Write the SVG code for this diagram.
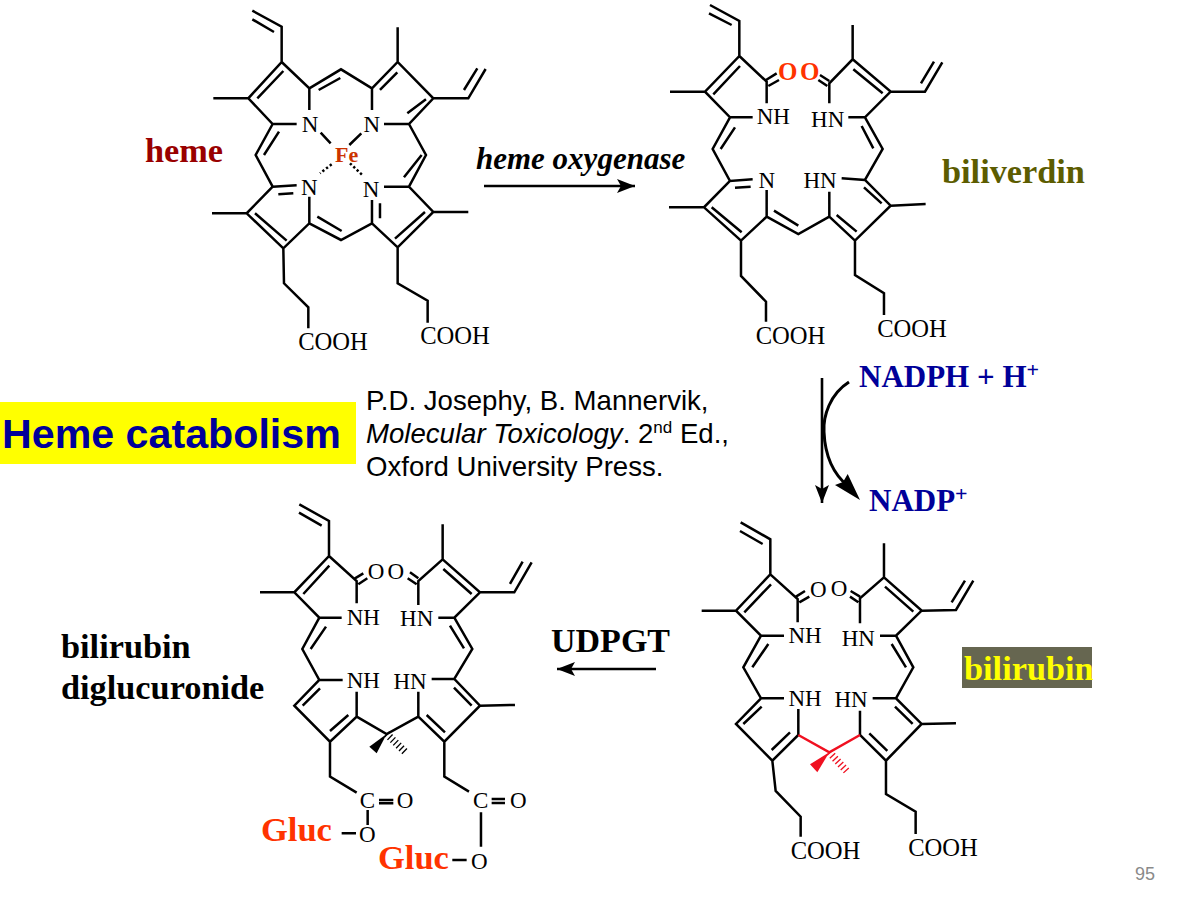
<svg xmlns="http://www.w3.org/2000/svg" width="1192" height="902" viewBox="0 0 1192 902">
<style>
.b{fill:none;stroke:#000;stroke-width:7.500;stroke-linejoin:miter;stroke-linecap:butt}
.r{fill:none;stroke:#f01020;stroke-width:7.500}
.a{font-family:"Liberation Serif",serif;font-size:23px;fill:#000;text-anchor:middle}
.c{font-family:"Liberation Serif",serif;font-size:24.600px;fill:#000;text-anchor:middle}
.l{font-family:"Liberation Serif",serif;font-weight:bold;font-size:34.300px}
.s{font-family:"Liberation Sans",Arial,sans-serif;font-size:27.600px;fill:#000}
.g{font-family:"Liberation Serif",serif;font-weight:bold;font-size:34.500px;fill:#ff3300}
.o{font-family:"Liberation Serif",serif;font-weight:bold;font-size:25px;fill:#ff3300;text-anchor:middle}
.n{font-family:"Liberation Serif",serif;font-weight:bold;font-size:31px;fill:#000099}
.ar{fill:none;stroke:#000;stroke-width:2.600}
</style>
<defs>
<marker id="h" markerUnits="userSpaceOnUse" markerWidth="20" markerHeight="16" refX="18" refY="7" orient="auto"><path d="M0 0L18 7L0 14L4 7Z" fill="#000"/></marker>
</defs>
<rect width="1192" height="902" fill="#fff"/>

<g id="heme">
<g transform="translate(200 0) scale(.3333)"><path class="b" d="M157 32L245 80V186L145 295L218 372H290M157 58L222 96M250 213L172 295M40 295H145M245 186L328 265V330M328 265L423 208L516 265M356 270L421 234M516 265V330M516 265L593 186L700 295L627 372H552M540 270L592 217M622 340L678 298M593 82V186M700 295H805L857 207M792 270L832 205M218 372L167 465L218 560M237 395L192 465M218 560L290 556M235 583L280 580M218 560L140 640L250 745L328 670V590M165 640L260 722M36 640H140M328 670L423 720L516 670M352 650L425 693M516 670V600M540 610V655M516 670L593 742L700 636L627 560H552M585 716L675 636M700 636H805M627 372L678 465L627 560M612 532L665 465M250 745L252 850L325 922V985M593 742V850L683 902V968M362 398L392 430M484 400L448 435"/><path class="b" stroke-dasharray="7 7" d="M395 493L360 520M450 490L490 528"/></g>
<text class="a" x="310" y="132">N</text><text class="a" x="371.700" y="132">N</text><text class="a" x="309.300" y="195">N</text><text class="a" x="371" y="197">N</text>
<text x="346.700" y="162" text-anchor="middle" font-family="Liberation Serif,serif" font-weight="bold" font-size="22" fill="#cc3300">Fe</text>
<text class="c" x="333" y="349.500">COOH</text><text class="c" x="455" y="343.500">COOH</text>
<text class="l" x="145" y="162" fill="#990000">heme</text>
</g>

<g id="biliverdin">
<g transform="translate(660 0) scale(.3333)"><path class="b" d="M150 15L238 63V168L135 275L210 352H278M147 40L215 75M240 198L160 283M30 275H135M238 168L320 245V310M318 240L350 220M325 258L357 240M508 243L480 225M502 258L475 240M508 310V250L578 178L692 275L615 352H565M578 75V178M580 208L668 280M692 275H795L847 187M783 250L822 185M210 352L158 447L210 543L278 538M225 382L182 447M225 563L272 560M210 543L132 622L243 722L320 650V570M155 622L245 697M27 622H132M320 650L415 702L508 650M342 632L415 677M508 650V575M508 650L585 722L692 617L615 540L545 535M530 645L590 695M612 562L665 610M692 617L797 612M615 352L668 447L615 540M605 378L640 445M243 722V828L318 905V965M585 722V825L672 880V945"/></g>
<text class="o" x="787.700" y="80">O</text><text class="o" x="809.700" y="80">O</text>
<text class="a" x="773.300" y="124.300">NH</text><text class="a" x="827.700" y="126.700">HN</text><text class="a" x="766.700" y="188.300">N</text><text class="a" x="820" y="188.300">HN</text>
<text class="c" x="790.500" y="343.500">COOH</text><text class="c" x="912" y="336.500">COOH</text>
<text class="l" x="942" y="183" fill="#5c5c00">biliverdin</text>
</g>

<g id="bilirubin">
<g transform="translate(690 515) scale(.3333)"><path class="b" d="M152 22L241 73V178L138 287L213 362H282M150 48L218 87M243 208L163 292M35 287H138M241 178L323 252V322M318 245L345 228M328 262L358 245M510 325V250L582 187L695 287L618 362H570M510 245L482 228M505 262L480 245M582 85V187M585 215L670 290M695 287L798 285L850 197M785 262L825 197M213 362L160 457L213 550H282M235 387L187 457M213 550L138 627L247 737L325 660V582M215 575L160 627M245 705L300 652M618 362L670 457L618 550M605 387L648 457M510 660V587M510 660L588 737L695 627L618 550H548M538 655L592 708M615 575L668 627M695 627L798 625M247 737L257 828L332 905V965M588 737V837L677 890V957"/><path class="r" d="M325 660L418 712L510 660"/><path d="M418 712L360 748L382 772Z" fill="#f01020"/><path d="M418 712L470 768" fill="none" stroke="#f01020" stroke-width="22" stroke-dasharray="4 8"/></g>
<text class="a" x="818.300" y="597">O</text><text class="a" x="839" y="596">O</text>
<text class="a" x="805" y="643.300">NH</text><text class="a" x="858.300" y="645.700">HN</text><text class="a" x="805" y="706">NH</text><text class="a" x="851" y="706.700">HN</text>
<text class="c" x="825.500" y="858.500">COOH</text><text class="c" x="943" y="855.500">COOH</text>
<rect x="962" y="647" width="130" height="41" fill="#666650"/>
<text class="l" x="964" y="680" fill="#ffff00">bilirubin</text>
</g>

<g id="bilirubin-diglucuronide">
<g transform="translate(250 495) scale(.3333)"><path class="b" d="M148 28L237 78V183L133 292L208 368H275M147 53L215 92M238 212L160 297M30 292H133M237 183L320 258V325M315 250L340 235M325 268L352 250M505 330V258L578 193L690 292L613 368H565M505 250L480 232M500 268L473 250M578 88V193M580 222L665 297M690 292H793L845 202M780 267L818 200M208 368L157 462L208 555H278M228 395L182 462M208 555L133 632L240 740L320 665V590M210 580L158 632M240 708L295 660M613 368L667 462L613 552M600 392L642 460M320 665L410 717L505 665M505 665V590M505 665L583 740L690 632L613 552H545M530 660L585 712M612 578L665 632M690 632L795 630M240 740V845L320 893M583 740V845L657 890M387 915H430M387 925H430M725 912H765M725 924H765M353 945V990M693 952V1055M275 1015H318M607 1095H650"/><path d="M410 717L358 755L380 775Z" fill="#000"/><path d="M410 717L465 770" fill="none" stroke="#000" stroke-width="22" stroke-dasharray="4 8"/></g>
<text class="a" x="376" y="578.500">O</text><text class="a" x="395.700" y="578.500">O</text>
<text class="a" x="363.300" y="625">NH</text><text class="a" x="416.700" y="625.700">HN</text><text class="a" x="363.300" y="688.300">NH</text><text class="a" x="410" y="689">HN</text>
<text class="a" x="367.300" y="808.300">C</text><text class="a" x="405" y="808.300">O</text><text class="a" x="367.300" y="842.300">O</text>
<text class="a" x="480.700" y="807.700">C</text><text class="a" x="518.300" y="807.700">O</text><text class="a" x="479.300" y="869">O</text>
<text class="g" x="261" y="841">Gluc</text><text class="g" x="378" y="869">Gluc</text>
<text class="l" x="61" y="658" fill="#000">bilirubin</text><text class="l" x="61" y="699" fill="#000">diglucuronide</text>
</g>

<g id="title">
<rect x="0" y="402" width="356" height="62" fill="#ffff00"/>
<text x="2" y="448" font-family="Liberation Sans,Arial,sans-serif" font-weight="bold" font-size="41.200" fill="#000099">Heme catabolism</text>
</g>

<g id="citation">
<text class="s" x="366" y="410">P.D. Josephy, B. Mannervik,</text>
<text class="s" x="366" y="443"><tspan font-style="italic">Molecular Toxicology</tspan>. 2<tspan font-size="17" dy="-10">nd</tspan><tspan dy="10"> Ed.,</tspan></text>
<text class="s" x="366" y="476">Oxford University Press.</text>
</g>

<g id="enzyme-labels">
<text x="476" y="169" font-family="Liberation Serif,serif" font-weight="bold" font-style="italic" font-size="31" fill="#000">heme oxygenase</text>
<text x="551" y="652" font-family="Liberation Serif,serif" font-weight="bold" font-size="34" fill="#000">UDPGT</text>
<text class="n" x="859" y="387">NADPH + H<tspan font-size="22" dy="-10">+</tspan></text>
<text class="n" x="869" y="511">NADP<tspan font-size="22" dy="-10">+</tspan></text>
<text x="1135" y="880" font-family="Liberation Sans,sans-serif" font-size="18" fill="#8a8a8a">95</text>
</g>

<g id="connectors">
<path class="ar" d="M484 186H635" marker-end="url(#h)"/>
<path class="ar" d="M822 378V503" marker-end="url(#h)"/>
<path class="ar" d="M656 669H557" marker-end="url(#h)"/>
<path d="M849 382C830 394 823 416 824 432C825 455 832 473 848 486" fill="none" stroke="#000" stroke-width="3"/>
<path d="M860 500L835 485L843 482L847.700 474Z" fill="#000"/>
</g>
</svg>
